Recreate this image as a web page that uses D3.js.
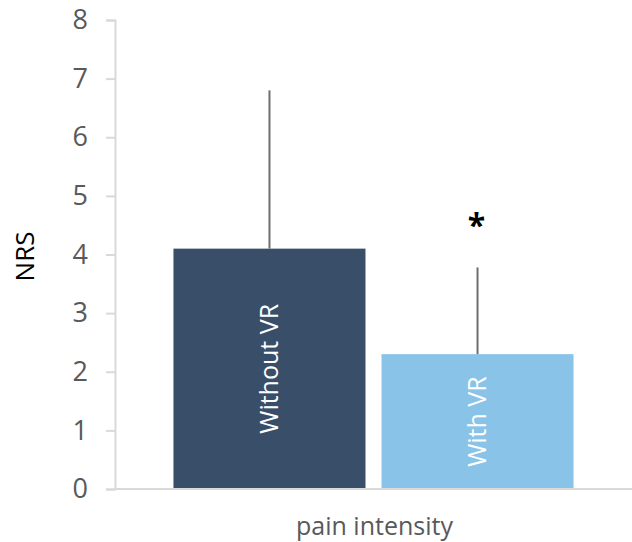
<!DOCTYPE html>
<html>
<head>
<meta charset="utf-8">
<script src="https://cdn.jsdelivr.net/npm/d3@7"></script>
<style>
  html, body { margin: 0; padding: 0; background: #fff; }
  svg { display: block; }
  text { font-family: "Open Sans", "Noto Sans", sans-serif; }
</style>
</head>
<body>
<script>
// Mean pain intensity (NRS) with upper standard-deviation whiskers
const categories = ["Without VR", "With VR"];
const means = [4.1, 2.3];
const errorTops = [6.8, 3.78];
const significance = ["", "*"];
const yTicks = [0, 1, 2, 3, 4, 5, 6, 7, 8];
const barColors = ["#394f69", "#89c3e7"];

const width = 632, height = 542;
const plot = { left: 115, right: 632, top: 20, bottom: 489 };

const svg = d3.select("body").append("svg")
  .attr("width", width).attr("height", height);

const y = d3.scaleLinear().domain([0, 8]).range([plot.bottom, plot.top]);
const x = d3.scaleBand().domain(categories)
  .range([plot.left, plot.right])
  .paddingInner(0.077).paddingOuter(0.281);

// y axis
const yAxis = svg.append("g")
  .attr("transform", `translate(${plot.left},0)`)
  .call(d3.axisLeft(y).tickValues(yTicks).tickSize(9).tickPadding(18).tickFormat(d3.format("d")));
yAxis.select(".domain").attr("stroke", "#d9d9d9").attr("stroke-width", 2);
yAxis.selectAll(".tick line").attr("stroke", "#d9d9d9").attr("stroke-width", 2);
yAxis.selectAll(".tick text").attr("fill", "#595959").style("font-size", "27px");

// bars
svg.append("g").selectAll("rect").data(categories).join("rect")
  .attr("x", d => x(d))
  .attr("y", (d, i) => y(means[i]))
  .attr("width", x.bandwidth())
  .attr("height", (d, i) => y(0) - y(means[i]))
  .attr("fill", (d, i) => barColors[i]);

// x baseline
svg.append("line")
  .attr("x1", plot.left).attr("x2", plot.right)
  .attr("y1", y(0)).attr("y2", y(0))
  .attr("stroke", "#d9d9d9").attr("stroke-width", 2);

// upper error whiskers
svg.append("g").selectAll("line").data(categories).join("line")
  .attr("x1", d => x(d) + x.bandwidth() / 2)
  .attr("x2", d => x(d) + x.bandwidth() / 2)
  .attr("y1", (d, i) => y(means[i]))
  .attr("y2", (d, i) => y(errorTops[i]))
  .attr("stroke", "#6e6e6e").attr("stroke-width", 2);

// significance marker
svg.append("g").selectAll("text").data(categories).join("text")
  .attr("x", d => x(d) + x.bandwidth() / 2 - 1)
  .attr("y", (d, i) => y(errorTops[i]) - 30)
  .attr("text-anchor", "middle")
  .attr("fill", "#000")
  .style("font-size", "32px")
  .style("font-weight", "bold")
  .text((d, i) => significance[i]);

// category labels inside bars
svg.append("g").selectAll("text").data(categories).join("text")
  .attr("transform", (d, i) => {
    const cx = x(d) + x.bandwidth() / 2;
    const cy = (y(means[i]) + y(0)) / 2;
    return `translate(${cx},${cy}) rotate(-90)`;
  })
  .attr("text-anchor", "middle")
  .attr("dy", "0.35em")
  .attr("fill", "#fff")
  .style("font-size", "25px")
  .text(d => d);

// axis titles
svg.append("text")
  .attr("transform", `translate(34,${(plot.top + plot.bottom) / 2 + 2}) rotate(-90)`)
  .attr("text-anchor", "middle")
  .attr("fill", "#000")
  .style("font-size", "26px")
  .text("NRS");

svg.append("text")
  .attr("x", (plot.left + plot.right) / 2 + 1)
  .attr("y", 535)
  .attr("text-anchor", "middle")
  .attr("fill", "#595959")
  .style("font-size", "25px")
  .text("pain intensity");
</script>
</body>
</html>
